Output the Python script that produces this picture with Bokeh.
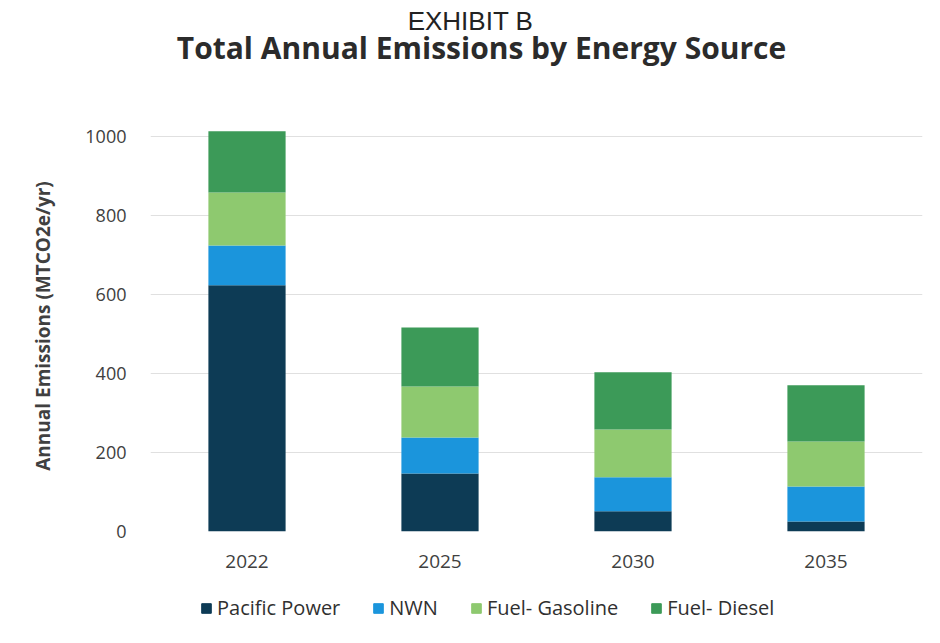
from bokeh.plotting import figure
from bokeh.models import Label, Legend, LegendItem
from bokeh.layouts import column
from bokeh.embed import file_html
from bokeh.resources import INLINE

years = ["2022", "2025", "2030", "2035"]
series = ["Pacific Power", "NWN", "Fuel- Gasoline", "Fuel- Diesel"]
pacific_power = [623, 147, 51, 25]
nwn = [101, 91, 86, 89]
fuel_gasoline = [134, 129, 121, 114]
fuel_diesel = [155, 149, 145, 142]
y_ticks = [0, 200, 400, 600, 800, 1000]
colors = ["#0d3b55", "#1b95dc", "#8ec96f", "#3c9a58"]
exhibit = "EXHIBIT B"
title_text = "Total Annual Emissions by Energy Source"
y_label = "Annual Emissions (MTCO2e/yr)"

data = {"years": years, "Pacific Power": pacific_power, "NWN": nwn,
        "Fuel- Gasoline": fuel_gasoline, "Fuel- Diesel": fuel_diesel}

FONT = "Open Sans"
W = 924
LB, RB = 150, 2          # frame left / right borders shared by all bands
TOP_H, MAIN_H, LEG_H = 112, 475, 40


def band(h):
    # frame spans page x 150..922, so data x == page x
    f = figure(width=W, height=h, x_range=(LB, W - RB), y_range=(0, h),
               output_backend="svg", toolbar_location=None,
               x_axis_location=None, y_axis_location=None,
               min_border_left=LB, min_border_right=RB,
               min_border_top=0, min_border_bottom=0)
    f.grid.visible = False
    f.outline_line_color = None
    return f


# ---- title band ----
top = band(TOP_H)
top.add_layout(Label(x=470, y=TOP_H - 20, text=exhibit,
                     text_font="Liberation Sans", text_font_size="26px", text_color="#222222",
                     text_align="center", text_baseline="alphabetic"))
top.add_layout(Label(x=481, y=TOP_H - 47, text=title_text,
                     text_font=FONT, text_font_style="bold", text_font_size="30px",
                     text_color="#2b2b2b", text_align="center", text_baseline="middle"))

# ---- main chart ----
p = figure(x_range=years, y_range=(0, 1040), width=W, height=MAIN_H,
           output_backend="svg", toolbar_location=None,
           min_border_left=LB, min_border_right=RB,
           min_border_top=8, min_border_bottom=56)
p.outline_line_color = None
rs = p.vbar_stack(series, x="years", width=0.4, color=colors, line_color=None, source=data)

p.xgrid.grid_line_color = None
p.ygrid.grid_line_color = "#e0e0e0"
p.yaxis.ticker = y_ticks
for ax in (p.xaxis[0], p.yaxis[0]):
    ax.axis_line_color = None
    ax.major_tick_line_color = None
    ax.minor_tick_line_color = None
    ax.major_label_text_font = FONT
    ax.major_label_text_color = "#404040"
p.yaxis.major_label_text_font_size = "18px"
p.xaxis.major_label_text_font_size = "19px"
p.yaxis.major_label_standoff = 18
p.xaxis.major_label_standoff = 17
p.yaxis.axis_label = y_label
p.yaxis.axis_label_text_font = FONT
p.yaxis.axis_label_text_font_style = "bold"
p.yaxis.axis_label_text_font_size = "19px"
p.yaxis.axis_label_text_color = "#404040"
p.yaxis.axis_label_standoff = 26

# ---- legend band (proxy renderers sit outside the visible range) ----
lg = band(LEG_H)
proxies = [lg.vbar(x=[0], top=[0], width=1, color=c) for c in colors]
legend = Legend(items=[LegendItem(label=s, renderers=[r]) for s, r in zip(series, proxies)],
                orientation="horizontal", location=(200 - LB, 6),
                label_text_font=FONT, label_text_font_size="20px",
                label_text_color="#303030", glyph_width=12, glyph_height=12,
                spacing=32, label_standoff=5, border_line_color=None,
                background_fill_alpha=0, padding=0, margin=0)
lg.add_layout(legend)

layout = column(top, p, lg, spacing=0)
open("out.html", "w").write(file_html(layout, INLINE))
